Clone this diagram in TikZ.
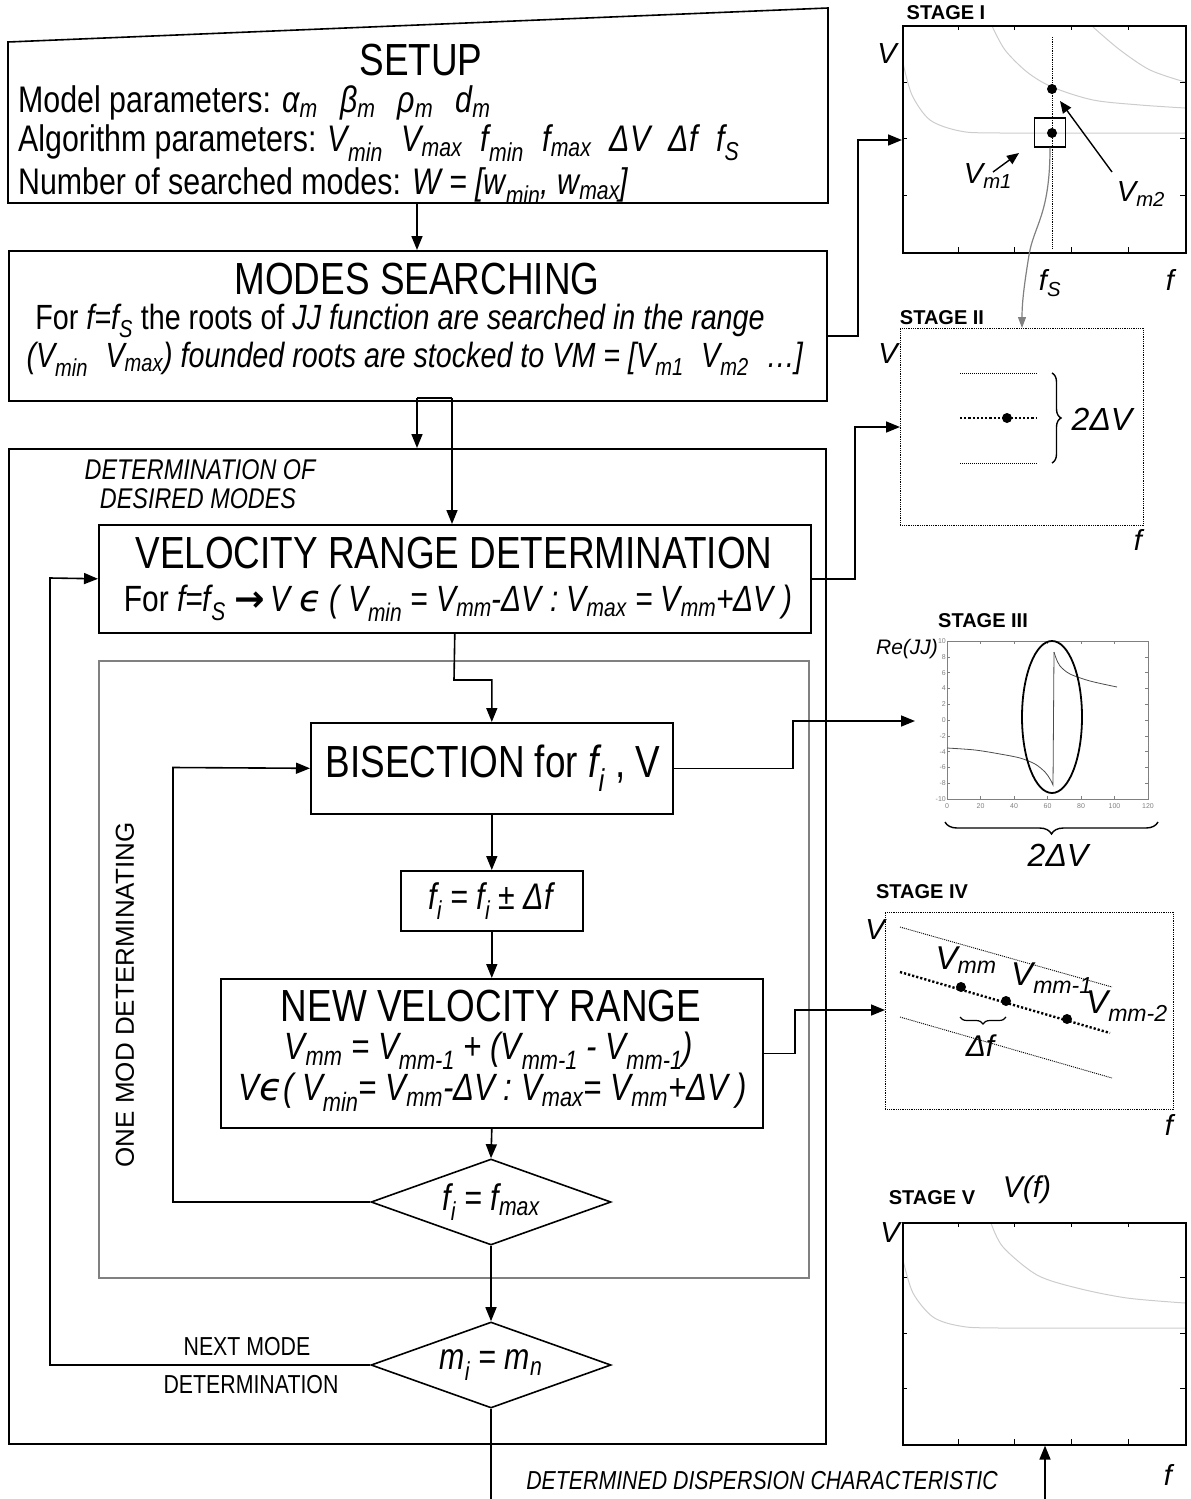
\documentclass[tikz,border=0pt]{standalone}
\usepackage{fontspec}
\setmainfont{Liberation Sans}
\newfontfamily\nar[FakeStretch=0.82]{Liberation Sans}
\newfontfamily\dv{DejaVu Sans}
\usetikzlibrary{arrows.meta,shapes.geometric,decorations.pathreplacing,calc}
\newcommand\fs[1]{\fontsize{#1}{#1}\selectfont}
\newcommand\sbx[1]{\textsubscript{#1}}
\tikzset{
  ln/.style={line width=1.6pt},
  ar/.style={line width=1.6pt,-{Triangle[length=14pt,width=11pt]}},
  sar/.style={line width=1.4pt,-{Triangle[length=12pt,width=10pt]}},
  bx/.style={draw,line width=1.6pt,inner sep=0pt,anchor=north west},
  ttl/.style={font=\nar\fs{45},inner sep=0pt},
  bdy/.style={font=\nar\fs{37},inner sep=0pt},
  bdyb/.style={font=\nar\fs{35},inner sep=0pt},
  lab/.style={font=\nar\fs{26},inner sep=0pt},
  stg/.style={font=\bfseries\fs{20},inner sep=0pt},
  ax/.style={font=\itshape\fs{29},inner sep=0pt},
  dia/.style={draw,diamond,line width=1.6pt,inner sep=0pt,minimum width=240pt,minimum height=86pt},
  dot/.style={circle,fill,inner sep=0pt,minimum size=10pt},
  crv/.style={gray!40,line width=1pt},
  tck/.style={line width=0.6pt},
  thind/.style={line width=0.9pt,dash pattern=on 1pt off 1pt},
  thickd/.style={line width=2.4pt,dash pattern=on 2.2pt off 2pt},
}
\begin{document}
\begin{tikzpicture}[x=1pt,y=-1pt]
\useasboundingbox (0,0) rectangle (1191,1499);

%================ FLOWCHART =================
% SETUP
\draw[ln] (8,42) -- (828,8) -- (828,203) -- (8,203) -- cycle;
\coordinate (setupB) at (417,203);
\node[ttl] (setupT) at (421,60) {SETUP};
\node[bdy,anchor=west] (su1) at (18,103) {Model parameters: \textit{α\sbx{m}\hspace{0.6em}β\sbx{m}\hspace{0.6em}ρ\sbx{m}\hspace{0.6em}d\sbx{m}}};
\node[bdy,anchor=west] (su2) at (18,143) {Algorithm parameters: \textit{V\sbx{min}\enspace V\sbx{max}\enspace f\sbx{min}\enspace f\sbx{max}\enspace ΔV\enspace Δf\enspace f\sbx{S}}};
\node[bdy,anchor=west] (su3) at (18,186) {Number of searched modes: \textit{W = [w\sbx{min}, w\sbx{max}]}};

% MODES SEARCHING
\node[bx,minimum width=818pt,minimum height=150pt] (ms) at (8,250) {};
\node[ttl] (msT) at (417,279) {MODES SEARCHING};
\node[bdyb] (ms1) at (400,321) {For \textit{f=f\sbx{S}} the roots of \textit{JJ function are searched in the range}};
\node[bdyb] (ms2) at (415,359) {\textit{(V\sbx{min}\enspace V\sbx{max}) founded roots are stocked to VM = [V\sbx{m1}\enspace V\sbx{m2}\enspace …]}};
\draw[ar] (setupB) -- (setupB |- ms.north);

% DETERMINATION OF DESIRED MODES
\node[bx,minimum width=817pt,minimum height=995pt] (dm) at (8,448) {};
\node[font=\nar\itshape\fs{28.5},inner sep=0pt] (dmL1) at (200,470) {DETERMINATION OF};
\node[font=\nar\itshape\fs{28.5},inner sep=0pt] (dmL2) at (198,499) {DESIRED MODES};

% VELOCITY RANGE DETERMINATION
\node[bx,minimum width=712pt,minimum height=108pt] (vr) at (98,524) {};
\node[ttl] (vrT) at (454,553) {VELOCITY RANGE DETERMINATION};
\node[bdyb,font=\nar\fs{36.5}] (vr1) at (458,603) {For \textit{f=f\sbx{S}} {\dv\bfseries →}\,\textit{V {\dv\itshape ϵ} ( V\sbx{min} = V\sbx{mm}-ΔV : V\sbx{max} = V\sbx{mm}+ΔV )}};

\coordinate (j1) at (452,398);
\coordinate (j2) at (417,398);
\draw[ln] (j1) -- (j2);
\draw[ar] (j2) -- (j2 |- dm.north);
\draw[ar] (j1) -- (j1 |- vr.north);

% ONE MOD DETERMINATING
\node[draw=gray,line width=1.6pt,inner sep=0pt,anchor=north west,minimum width=710pt,minimum height=617pt] (gb) at (98,660) {};
\node[rotate=90,font=\fs{26},inner sep=0pt] (omd) at (125,995) {ONE MOD DETERMINATING};

% BISECTION
\node[bx,minimum width=362pt,minimum height=91pt] (bi) at (310,722) {};
\node[ttl] (biT) at (493,768) {BISECTION for \textit{f\sbx{i}} , V};
\coordinate (c3) at (454,680);
\draw[ar] (vr.south) -- (c3) -| (bi.north);

% f_i box
\node[bx,minimum width=182pt,minimum height=60pt] (fb) at (400,870) {};
\node[bdyb,font=\nar\fs{37}] (fbT) at (fb) {\textit{f\sbx{i} = f\sbx{i} ± Δf}};
\draw[ar] (bi.south) -- (fb.north);

% NEW VELOCITY RANGE
\node[bx,minimum width=542pt,minimum height=149pt] (nv) at (220,978) {};
\node[ttl] (nvT) at (491,1006) {NEW VELOCITY RANGE};
\node[bdyb,font=\nar\fs{38}] (nv1) at (489,1051) {\textit{V\sbx{mm} = V\sbx{mm-1} + (V\sbx{mm-1} - V\sbx{mm-1})}};
\node[bdyb,font=\nar\fs{38}] (nv2) at (493,1092) {\textit{V{\dv\itshape ϵ}( V\sbx{min}= V\sbx{mm}-ΔV : V\sbx{max}= V\sbx{mm}+ΔV )}};
\draw[ar] (fb.south) -- (nv.north);

% decisions
\node[dia] (d1) at (491,1202) {};
\node[bdyb,font=\nar\fs{37}] (d1T) at (d1) {\textit{f\sbx{i} = f\sbx{max}}};
\node[dia] (d2) at (491,1365) {};
\node[bdyb,font=\nar\fs{37}] (d2T) at (d2) {\textit{m\sbx{i} = m\sbx{n}}};
\draw[ar] (nv.south) -- (d1.north);
\draw[ar] (d1.south) -- (d2.north);

\coordinate (c6) at (173,767.5);
\draw[ar] (d1.west) -| (c6) -- (bi.west);
\coordinate (c7) at (50,578);
\draw[ar] (d2.west) -| (c7) -- (vr.west);
\node[lab] (nm1) at (247,1347) {NEXT MODE};
\node[lab] (nm2) at (251,1385) {DETERMINATION};

\coordinate (endB) at (491,1499);
\draw[ln] (d2.south) -- (endB);
\node[font=\nar\itshape\fs{26},inner sep=0pt] (ddc) at (762,1481) {DETERMINED DISPERSION CHARACTERISTIC};

%================ STAGE I =================
\node[stg] (st1) at (946,13) {STAGE I};
\draw[crv] plot[smooth] coordinates {(903,63) (912,95) (930,120) (960,131) (1000,133) (1185,133)};
\draw[crv] plot[smooth] coordinates {(992,26) (1005,50) (1027,72) (1052,87) (1093,100) (1140,105) (1185,108)};
\draw[crv] plot[smooth] coordinates {(1093,27) (1120,50) (1150,70) (1185,82)};
\node[bx,minimum width=283pt,minimum height=227pt] (p1) at (902,25) {};
\foreach \xx in {958,1014,1071,1128} {\draw[tck] (\xx,25) -- ++(0,5) (\xx,252) -- ++(0,-5);}
\foreach \yy in {82,138.5,195} {\draw[tck] (902,\yy) -- ++(5,0) (1185,\yy) -- ++(-5,0);}
\draw[line width=0.8pt,densely dotted] (1052,37) -- (1052,248);
\node[dot] (vA) at (1052,89) {};
\node[dot] (vB) at (1052,133) {};
\node[draw,line width=1.4pt,minimum width=31pt,minimum height=29pt,inner sep=0pt] (sq) at (1050,132.5) {};
\node[ax] (v1) at (887,54) {V};
\node[ax] (vm1) at (988,176) {V\sbx{m1}};
\node[ax] (vm2) at (1141,194) {V\sbx{m2}};
\coordinate (a1s) at (993,172); \coordinate (a1e) at (1019,153);
\coordinate (a2s) at (1112,172); \coordinate (a2e) at (1060,101);
\draw[sar] (a1s) -- (a1e);
\draw[sar] (a2s) -- (a2e);
\node[ax] (fs1) at (1050,283) {f\sbx{S}};
\node[ax] (f1) at (1170,280) {f};
\coordinate (c1) at (858,140);
\draw[ar] ($(ms.east)+(0,10)$) -| (c1) -- (c1 -| p1.west);

%================ STAGE II =================
\node[stg] (st2) at (942,318) {STAGE II};
\node[draw,line width=0.8pt,densely dotted,minimum width=243pt,minimum height=197pt,inner sep=0pt,anchor=north west] (p2) at (900,328) {};
\coordinate (p2in) at (1022,328);
\draw[gray,line width=1.2pt,-{Triangle[length=11pt,width=8pt]}] (sq.south) .. controls (1050,215) and (1034,225) .. (1029,255) .. controls (1025,280) and (1022,300) .. (p2in);
\node[ax] (v2) at (888,354) {V};
\draw[thind] (960,373) -- (1037,373);
\draw[thind] (960,463) -- (1037,463);
\draw[thickd] (960,418) -- (1037,418);
\node[dot] (vC) at (1007,418) {};
\draw[decorate,decoration={brace,amplitude=9pt},line width=1.4pt] (1052,373) -- (1052,463);
\node[font=\itshape\fs{32},inner sep=0pt] (dv2) at (1102,419) {2ΔV};
\node[ax] (f2) at (1138,540) {f};
\coordinate (c2) at (855,427);
\draw[ar] (vr.east) -| (c2) -- (c2 -| p2.west);

%================ STAGE III =================
\node[stg] (st3) at (983,621) {STAGE III};
\node[font=\itshape\fs{21},inner sep=0pt] (re) at (907,649) {Re(JJ)};
\node[draw=gray,line width=0.8pt,minimum width=201pt,minimum height=158pt,inner sep=0pt,anchor=north west] (p3) at (947,641) {};
\foreach \v [count=\i from 0] in {0,20,40,60,80,100,120} {
  \node[font=\fs{7},text=gray,inner sep=0pt] at (947+\i*33.5,806) {\v};
  \draw[gray,line width=0.4pt] (947+\i*33.5,799) -- ++(0,-3) (947+\i*33.5,641) -- ++(0,3);
}
\foreach \v [count=\i from 0] in {10,8,6,4,2,0,-2,-4,-6,-8,-10} {
  \node[font=\fs{7},text=gray,anchor=east,inner sep=1pt] at (947,641+\i*15.8) {\v};
  \draw[gray,line width=0.4pt] (947,641+\i*15.8) -- ++(3,0) (1148,641+\i*15.8) -- ++(-3,0);
}
\draw[gray!60!black,line width=0.8pt] plot[smooth] coordinates {(947,748) (975,750) (1000,754) (1020,758) (1035,764) (1045,772) (1050,779) (1053,785)} -- (1054,652);
\draw[gray!60!black,line width=0.8pt] plot[smooth] coordinates {(1054,652) (1056,658) (1060,666) (1070,674) (1090,681) (1117,687)};
\draw[line width=1.8pt] (1052,717) ellipse [x radius=30pt,y radius=76pt];
\draw[decorate,decoration={brace,mirror,amplitude=12pt},line width=1.4pt] (945,822) -- (1158,822);
\node[font=\itshape\fs{32},inner sep=0pt] (dv3) at (1058,855) {2ΔV};
\coordinate (c4) at (793,721);
\coordinate (p3in) at (915,721);
\draw[ar] (bi.east) -| (c4) -- (p3in);

%================ STAGE IV =================
\node[stg] (st4) at (922,892) {STAGE IV};
\node[draw,line width=0.8pt,densely dotted,minimum width=288pt,minimum height=197pt,inner sep=0pt,anchor=north west] (p4) at (885,912) {};
\node[ax] (v4) at (875,930) {V};
\draw[thind] (900,927) -- (1112,987);
\draw[thind] (900,1017) -- (1112,1078);
\draw[thickd] (900,972) -- (1110,1033);
\node[dot] (m0) at (961,987) {};
\node[dot] (m1) at (1006,1001) {};
\node[dot] (m2) at (1067,1019) {};
\node[font=\itshape\fs{33},inner sep=0pt] (lm0) at (966,960) {V\sbx{mm}};
\node[font=\itshape\fs{33},inner sep=0pt] (lm1) at (1052,978) {V\sbx{mm-1}};
\node[font=\itshape\fs{33},inner sep=0pt] (lm2) at (1127,1006) {V\sbx{mm-2}};
\draw[decorate,decoration={brace,mirror,amplitude=7pt},line width=1.2pt] (960,1017) -- (1006,1017);
\node[font=\itshape\fs{30},inner sep=0pt] (df4) at (980,1046) {Δf};
\node[ax] (f4) at (1169,1125) {f};
\coordinate (c5) at (795,1010);
\draw[ar] (nv.east) -| (c5) -- (c5 -| p4.west);

%================ STAGE V =================
\node[stg] (st5) at (932,1198) {STAGE V};
\node[font=\itshape\fs{30},inner sep=0pt] (vf) at (1027,1190) {V(f)};
\draw[crv] plot[smooth] coordinates {(903,1260) (913,1293) (933,1317) (960,1326) (1000,1328) (1185,1328)};
\draw[crv] plot[smooth] coordinates {(991,1223) (1003,1247) (1037,1275) (1077,1288) (1127,1298) (1185,1303)};
\node[bx,minimum width=283pt,minimum height=222pt] (p5) at (902,1222) {};
\foreach \xx in {958,1014,1071,1128} {\draw[tck] (\xx,1222) -- ++(0,5) (\xx,1444) -- ++(0,-5);}
\foreach \yy in {1277,1333,1388} {\draw[tck] (902,\yy) -- ++(5,0) (1185,\yy) -- ++(-5,0);}
\node[ax] (v5) at (890,1233) {V};
\node[ax] (f5) at (1168,1475) {f};
\coordinate (endV) at (1045,1499);
\draw[ar] (endV) -- (endV |- p5.south);

\end{tikzpicture}
\end{document}
